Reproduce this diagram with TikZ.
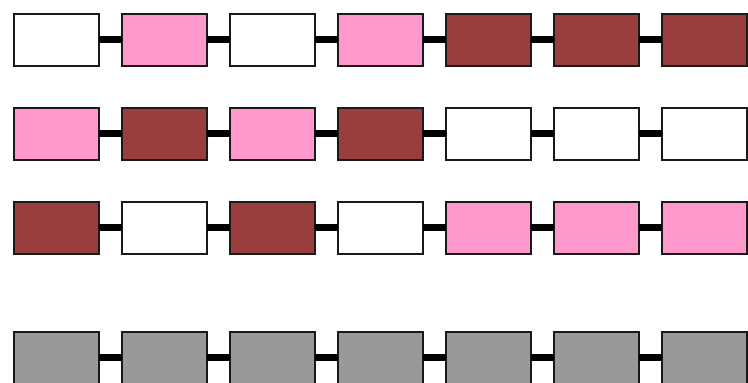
\documentclass[tikz,border=0pt]{standalone}
\usepackage{xcolor}
\usetikzlibrary{positioning}
\definecolor{cellpink}{RGB}{255,153,204}
\definecolor{cellbrown}{RGB}{153,61,61}
\definecolor{cellgray}{RGB}{153,153,153}
\tikzset{
  cell/.style={draw=black!90,line width=2pt,minimum width=85pt,minimum height=52pt,
               inner sep=0pt,outer sep=0pt},
  link/.style={line width=7pt,color=black},
}

\begin{document}
\begin{tikzpicture}[x=1pt,y=-1pt]
  \useasboundingbox (0,0) rectangle (748,383);
  % row 1
  \node[cell,fill=white] (a1) at (56.5,39.5) {};
  \foreach \c [count=\i from 2, remember=\i as \p (initially 1)] in
      {cellpink,white,cellpink,cellbrown,cellbrown,cellbrown} {
    \node[cell,fill=\c,right=23pt of a\p] (a\i) {};
    \draw[link] (a\p.east) -- (a\i.west);
  }
  % row 2
  \node[cell,fill=cellpink] (b1) at (56.5,133.5) {};
  \foreach \c [count=\i from 2, remember=\i as \p (initially 1)] in
      {cellbrown,cellpink,cellbrown,white,white,white} {
    \node[cell,fill=\c,right=23pt of b\p] (b\i) {};
    \draw[link] (b\p.east) -- (b\i.west);
  }
  % row 3
  \node[cell,fill=cellbrown] (c1) at (56.5,227.5) {};
  \foreach \c [count=\i from 2, remember=\i as \p (initially 1)] in
      {white,cellbrown,white,cellpink,cellpink,cellpink} {
    \node[cell,fill=\c,right=23pt of c\p] (c\i) {};
    \draw[link] (c\p.east) -- (c\i.west);
  }
  % row 4
  \node[cell,fill=cellgray] (d1) at (56.5,357.5) {};
  \foreach \i [remember=\i as \p (initially 1)] in {2,...,7} {
    \node[cell,fill=cellgray,right=23pt of d\p] (d\i) {};
    \draw[link] (d\p.east) -- (d\i.west);
  }
\end{tikzpicture}
\end{document}
